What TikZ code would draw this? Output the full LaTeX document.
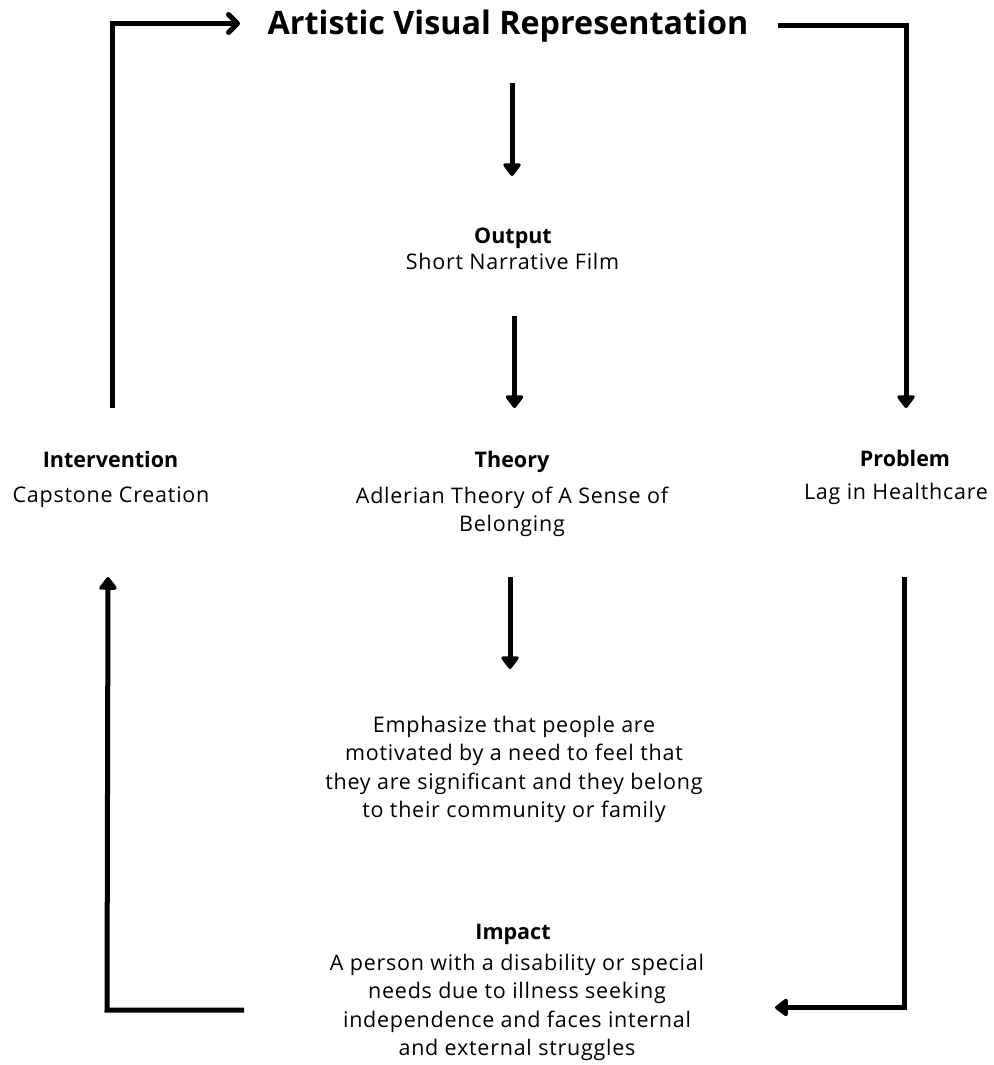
\documentclass[tikz,border=0pt]{standalone}
\usepackage{fontspec}
\setmainfont{Open Sans}
\newfontfamily\bodyfont[LetterSpace=3.5]{Open Sans}
\usetikzlibrary{arrows.meta}
\begin{document}
\begin{tikzpicture}[x=1pt,y=-1pt,
  conn/.style={line width=5pt},
  tri/.style={-{Triangle[width=20pt,length=14pt,round]}},
  barb/.style={-{Straight Barb[width=18pt,length=9pt,round]}},
  head/.style={inner sep=0pt,anchor=base,font=\fontsize{21.5}{28.5}\selectfont\bfseries},
  body/.style={inner sep=0pt,anchor=base,font=\bodyfont\fontsize{21.5}{28.5}\selectfont},
  ttl/.style={inner sep=0pt,anchor=base,font=\fontsize{32.3}{36}\selectfont\bfseries}]
\useasboundingbox (0,0) rectangle (993,1065);
\fill[white] (0,0) rectangle (993,1065);

% texts
\node[ttl] (title) at (508,35) {Artistic Visual Representation};
\node[head] (outh) at (513,243) {Output};
\node[body] (outb) at (512.5,269) {Short Narrative Film};
\node[head] (theh) at (512,467) {Theory};
\node[body] (theb) at (512,503) {\begin{tabular}[t]{@{}c@{}}Adlerian Theory of A Sense of\\Belonging\end{tabular}};
\node[head] (inth) at (110.5,467) {Intervention};
\node[body] (intb) at (111,502) {Capstone Creation};
\node[head] (proh) at (905,466) {Problem};
\node[body] (prob) at (896,499) {Lag in Healthcare};
\node[body] (emph) at (514,732) {\begin{tabular}[t]{@{}c@{}}Emphasize that people are\\motivated by a need to feel that\\they are significant and they belong\\to their community or family\end{tabular}};
\node[head] (imph) at (513,939) {Impact};
\node[body] (impb) at (517,970) {\begin{tabular}[t]{@{}c@{}}A person with a disability or special\\needs due to illness seeking\\independence and faces internal\\and external struggles\end{tabular}};

% connector end points
\coordinate (a1s) at (512,83);   \coordinate (a1e) at (512,176);
\coordinate (a2s) at (514.5,316); \coordinate (a2e) at (514.5,408);
\coordinate (a3s) at (510,577);  \coordinate (a3e) at (510,669);
\coordinate (tls) at (112,408);  \coordinate (tlc) at (112,23.5); \coordinate (tle) at (240,23.5);
\coordinate (trs) at (778,25.5); \coordinate (trc) at (906,25.5); \coordinate (tre) at (906,408);
\coordinate (brs) at (904.5,577); \coordinate (brc) at (904.5,1007.5); \coordinate (bre) at (775,1007.5);
\coordinate (bls) at (244,1010); \coordinate (blc) at (107,1010); \coordinate (ble) at (108,577);

% connectors
\draw[conn,tri] (a1s) -- (a1e);
\draw[conn,tri] (a2s) -- (a2e);
\draw[conn,tri] (a3s) -- (a3e);
\draw[conn,barb] (tls) -- (tlc) -- (tle);
\draw[conn,tri] (trs) -- (trc) -- (tre);
\draw[conn,tri] (brs) -- (brc) -- (bre);
\draw[conn,tri] (bls) -- (blc) -- (ble);
\end{tikzpicture}
\end{document}
